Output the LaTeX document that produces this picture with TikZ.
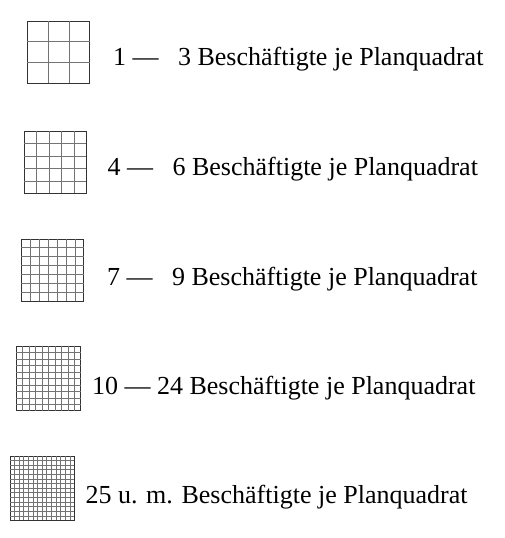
\documentclass[tikz,border=0pt]{standalone}
\usepackage{fontspec}
\setmainfont{Liberation Serif}
\usetikzlibrary{positioning,calc}

\begin{document}
\begin{tikzpicture}[
  x=1pt, y=-1pt,
  feld/.style={draw=black!80, line width=0.7pt, fill=white, inner sep=0pt,
               minimum width=#1, minimum height=#1},
  gitter/.style={black!55, line width=0.4pt},
  legende/.style={anchor=base west, inner sep=0pt,
                  font=\fontsize{26}{28}\selectfont},
]
\useasboundingbox (0,0) rectangle (505,538);

% ---------- Planquadrate ----------
\node[feld=62pt] (q1) at (58.5,52) {};
\node[feld=62pt] (q2) at (55,162) {};
\node[feld=62pt] (q3) at (52.5,270) {};
\node[feld=64pt] (q4) at (48.5,378.5) {};
\node[feld=64pt] (q5) at (42,488) {};

% ---------- Raster ----------
\foreach \q/\n in {q1/3,q2/5,q3/7,q4/10,q5/14}{
  \pgfmathtruncatemacro\m{\n-1}
  \foreach \i in {1,...,\m}{
    \draw[gitter] ($(\q.south west)!\i/\n!(\q.south east)$) -- ($(\q.north west)!\i/\n!(\q.north east)$);
    \draw[gitter] ($(\q.south west)!\i/\n!(\q.north west)$) -- ($(\q.south east)!\i/\n!(\q.north east)$);
  }
}

% ---------- Legende ----------
\node[legende] (t1) at ($(q1.east)+(23,13)$) {1 —\ \hphantom{0}3 Beschäftigte je Planquadrat};
\node[legende] (t2) at ($(q2.east)+(21,13)$) {4 —\ \hphantom{0}6 Beschäftigte je Planquadrat};
\node[legende] (t3) at ($(q3.east)+(23,15)$) {7 —\ \hphantom{0}9 Beschäftigte je Planquadrat};
\node[legende] (t4) at ($(q4.east)+(11,15.5)$) {10 — 24 Beschäftigte je Planquadrat};
\node[legende] (t5) at ($(q5.east)+(11,15)$) {25 u. m. Beschäftigte je Planquadrat};
\end{tikzpicture}
\end{document}
